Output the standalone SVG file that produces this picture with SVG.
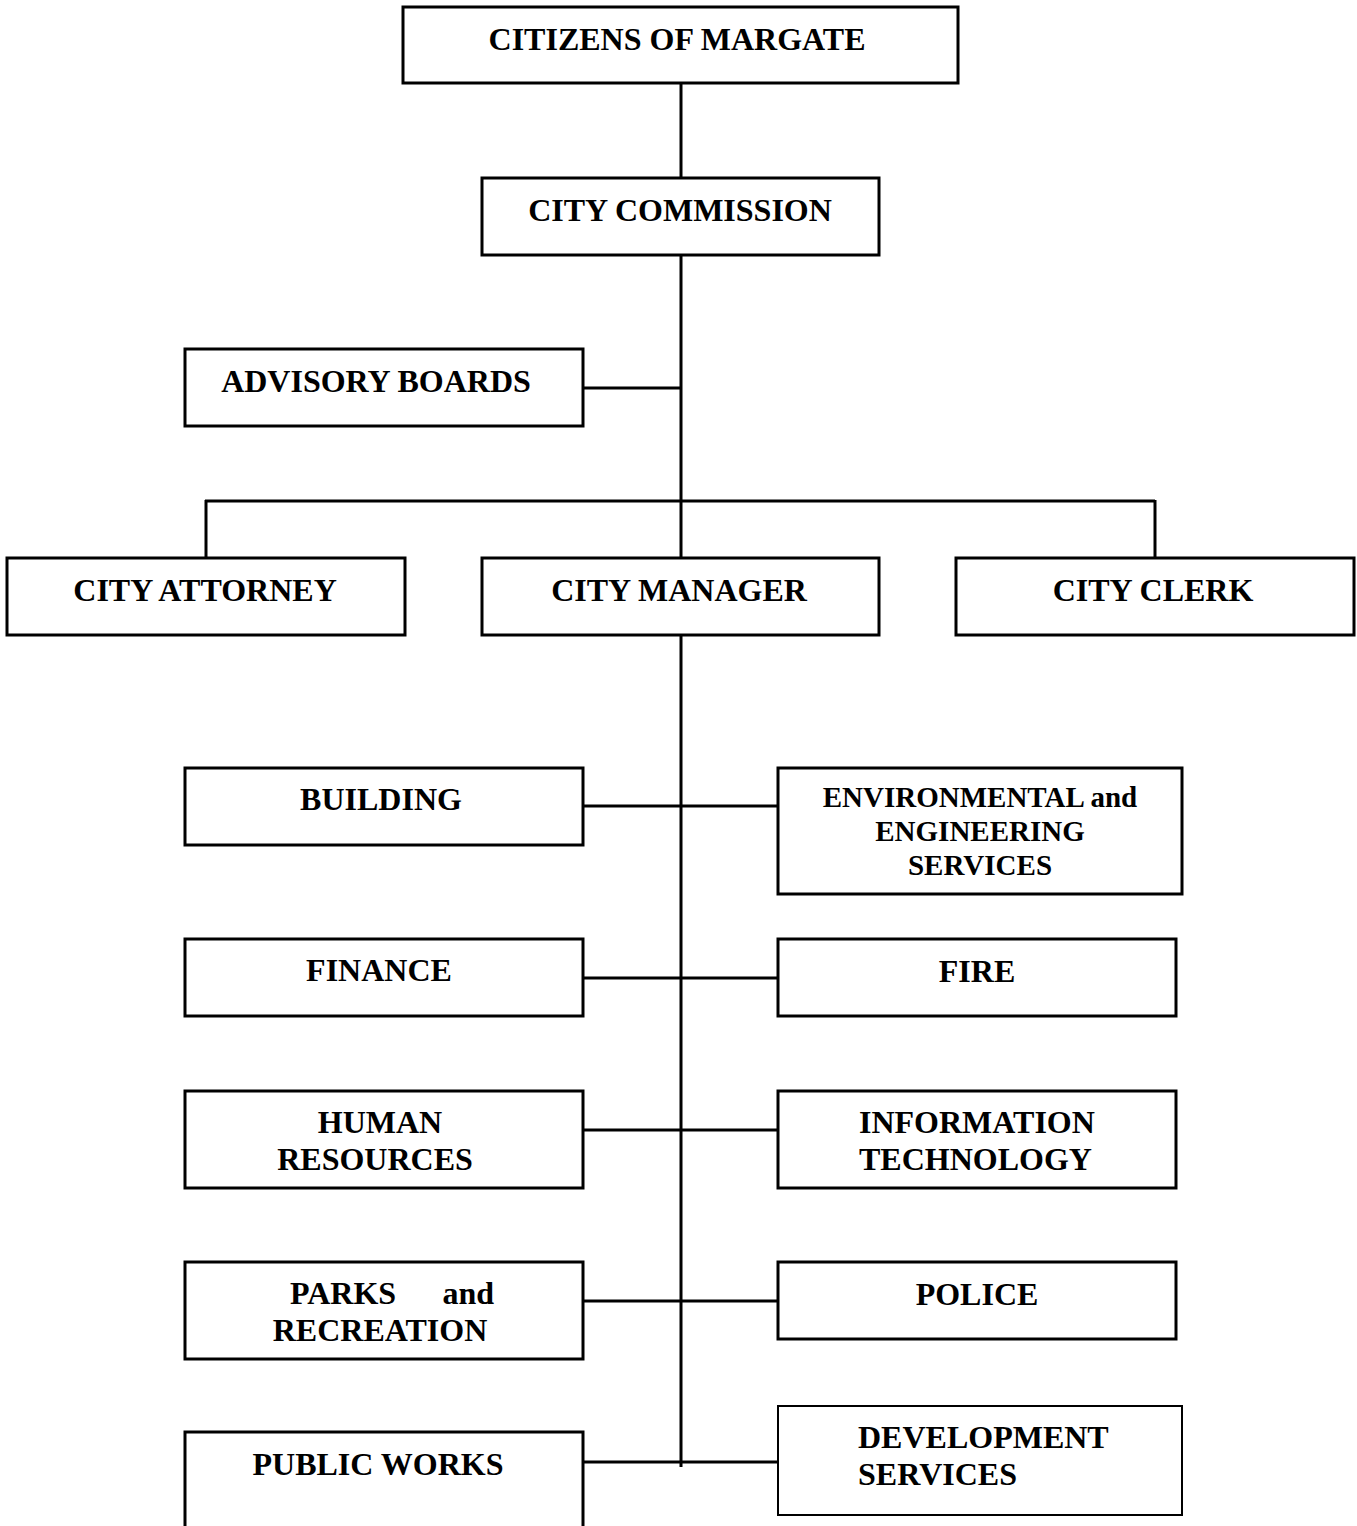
<svg xmlns="http://www.w3.org/2000/svg" width="1357" height="1526" viewBox="0 0 1357 1526">
<style>
rect.b{fill:#fff;stroke:#000;stroke-width:3}
rect.t{fill:#fff;stroke:#000;stroke-width:2}
text{font-family:"Liberation Serif","Times New Roman",serif;font-weight:bold;font-size:32px;fill:#000}
.m{text-anchor:middle}
.s{font-size:29px}
#connectors line{stroke:#000;stroke-width:3}
</style>
<rect width="1357" height="1526" fill="#fff"/>
<g id="connectors">
<line x1="681" y1="83" x2="681" y2="178"/>
<line x1="681" y1="255" x2="681" y2="558"/>
<line x1="583" y1="388" x2="681" y2="388"/>
<line x1="205" y1="501" x2="1155" y2="501"/>
<line x1="206" y1="500" x2="206" y2="558"/>
<line x1="1155" y1="500" x2="1155" y2="558"/>
<line x1="681" y1="635" x2="681" y2="1467"/>
<line x1="583" y1="806" x2="778" y2="806"/>
<line x1="583" y1="978" x2="778" y2="978"/>
<line x1="583" y1="1130" x2="778" y2="1130"/>
<line x1="583" y1="1301" x2="778" y2="1301"/>
<line x1="583" y1="1462" x2="778" y2="1462"/>
</g>
<g id="citizens"><rect class="b" x="403" y="7" width="555" height="76"/><text class="m" x="677" y="50">CITIZENS OF MARGATE</text></g>
<g id="commission"><rect class="b" x="482" y="178" width="397" height="77"/><text class="m" x="680" y="221">CITY COMMISSION</text></g>
<g id="advisory"><rect class="b" x="185" y="349" width="398" height="77"/><text class="m" x="376" y="392">ADVISORY BOARDS</text></g>
<g id="attorney"><rect class="b" x="7" y="558" width="398" height="77"/><text class="m" x="205" y="601">CITY ATTORNEY</text></g>
<g id="manager"><rect class="b" x="482" y="558" width="397" height="77"/><text class="m" x="679" y="601">CITY MANAGER</text></g>
<g id="clerk"><rect class="b" x="956" y="558" width="398" height="77"/><text class="m" x="1153" y="601">CITY CLERK</text></g>
<g id="building"><rect class="b" x="185" y="768" width="398" height="77"/><text class="m" x="381" y="810">BUILDING</text></g>
<g id="environmental"><rect class="b" x="778" y="768" width="404" height="126"/><text class="m s" x="980" y="807">ENVIRONMENTAL and</text><text class="m s" x="980" y="841">ENGINEERING</text><text class="m s" x="980" y="875">SERVICES</text></g>
<g id="finance"><rect class="b" x="185" y="939" width="398" height="77"/><text class="m" x="379" y="981">FINANCE</text></g>
<g id="fire"><rect class="b" x="778" y="939" width="398" height="77"/><text class="m" x="977" y="982">FIRE</text></g>
<g id="hr"><rect class="b" x="185" y="1091" width="398" height="97"/><text class="m" x="380" y="1133">HUMAN</text><text class="m" x="375" y="1170">RESOURCES</text></g>
<g id="it"><rect class="b" x="778" y="1091" width="398" height="97"/><text x="859" y="1133">INFORMATION</text><text x="859" y="1170">TECHNOLOGY</text></g>
<g id="parks"><rect class="b" x="185" y="1262" width="398" height="97"/><text x="290" y="1304">PARKS</text><text x="494" y="1304" text-anchor="end">and</text><text class="m" x="380" y="1341">RECREATION</text></g>
<g id="police"><rect class="b" x="778" y="1262" width="398" height="77"/><text class="m" x="977" y="1305">POLICE</text></g>
<g id="publicworks"><rect class="b" x="185" y="1432" width="398" height="100"/><text class="m" x="378" y="1475">PUBLIC WORKS</text></g>
<g id="development"><rect class="t" x="778" y="1406" width="404" height="109"/><text x="858" y="1448">DEVELOPMENT</text><text x="858" y="1485">SERVICES</text></g>
</svg>
